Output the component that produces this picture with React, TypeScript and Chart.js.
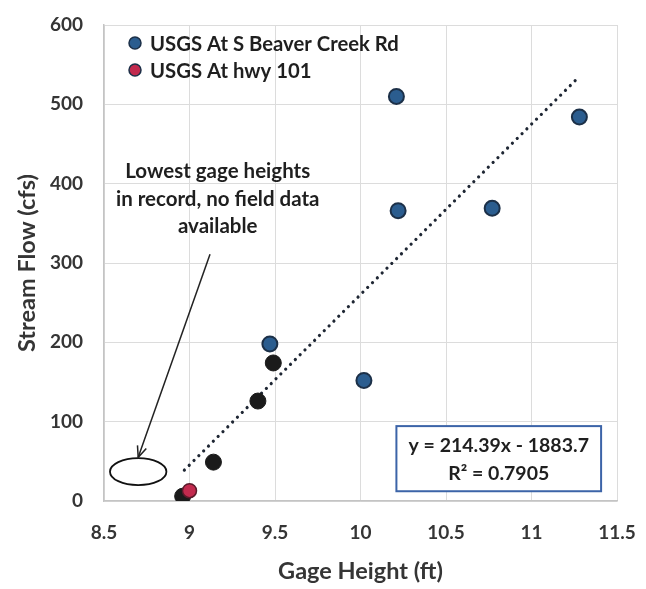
import React, { useEffect, useRef } from "react";
import { Chart, registerables } from "chart.js";

Chart.register(...registerables);

// Data
const beaverX = [9.47, 10.02, 10.21, 10.22, 10.77, 11.28];
const beaverY = [198, 152, 510, 366, 369, 484];
const hwyX = [9.0];
const hwyY = [13];
const otherX = [8.96, 9.14, 9.4, 9.49];
const otherY = [6, 49, 126, 174];
const trendX = [8.97, 11.27];
const trendY = [39, 533];

const xTicks = [8.5, 9, 9.5, 10, 10.5, 11, 11.5];
const yTicks = [0, 100, 200, 300, 400, 500, 600];

const legendLabels = ["USGS At S Beaver Creek Rd", "USGS At hwy 101"];
const noteLines = ["Lowest gage heights", "in record, no field data", "available"];
const equationLines = ["y = 214.39x - 1883.7", "R\u00b2 = 0.7905"];

const FONT = "Lato, 'Open Sans', sans-serif";
const BLUE = "#2b5d8f";
const BLUE_BORDER = "#1c3048";
const RED = "#c22a4e";
const DARK = "#1b1b1b";
const TEXT = "#353535";

const toPts = (xs: number[], ys: number[]) => xs.map((x, i) => ({ x, y: ys[i] }));

const zeroPadding = (s: any) => {
  s.paddingTop = 0;
  s.paddingBottom = 0;
  s.paddingLeft = 0;
  s.paddingRight = 0;
};

const overlayPlugin = {
  id: "overlay",
  afterDatasetsDraw(chart: any) {
    const { ctx, chartArea, scales } = chart;
    const xs = scales.x;
    const ys = scales.y;
    ctx.save();

    // Legend (inside plot)
    const lx = chartArea.left + 31;
    const colors = [BLUE, RED];
    ctx.font = `bold 20.3px ${FONT}`;
    ctx.textBaseline = "middle";
    ctx.textAlign = "left";
    legendLabels.forEach((lab, i) => {
      const ly = chartArea.top + 18 + i * 27;
      ctx.beginPath();
      ctx.arc(lx, ly, 6, 0, Math.PI * 2);
      ctx.fillStyle = colors[i];
      ctx.fill();
      ctx.lineWidth = 1.5;
      ctx.strokeStyle = BLUE_BORDER;
      ctx.stroke();
      ctx.fillStyle = "#1f1f1f";
      ctx.fillText(lab, lx + 15, ly + 1);
    });

    // Note text
    ctx.textAlign = "center";
    ctx.font = `bold 20.5px ${FONT}`;
    ctx.fillStyle = "#1f1f1f";
    const nx = xs.getPixelForValue(9.165);
    const ny = ys.getPixelForValue(415);
    noteLines.forEach((t, i) => {
      ctx.fillText(t, nx, ny + i * 27.5);
    });

    // Ellipse
    const ecx = xs.getPixelForValue(8.7);
    const ecy = ys.getPixelForValue(37);
    const erx = Math.abs(xs.getPixelForValue(8.865) - ecx);
    const ery = Math.abs(ys.getPixelForValue(54) - ecy);
    ctx.beginPath();
    ctx.ellipse(ecx, ecy, erx, ery, 0, 0, Math.PI * 2);
    ctx.fillStyle = "#ffffff";
    ctx.fill();
    ctx.lineWidth = 1.8;
    ctx.strokeStyle = "#111";
    ctx.stroke();

    // Arrow
    const ax0 = xs.getPixelForValue(9.12);
    const ay0 = ys.getPixelForValue(311);
    const ax1 = xs.getPixelForValue(8.7);
    const ay1 = ys.getPixelForValue(55);
    ctx.beginPath();
    ctx.moveTo(ax0, ay0);
    ctx.lineTo(ax1, ay1);
    ctx.lineWidth = 1.5;
    ctx.strokeStyle = "#222";
    ctx.stroke();
    const ang = Math.atan2(ay1 - ay0, ax1 - ax0);
    const hl = 12;
    ctx.beginPath();
    ctx.moveTo(ax1 - hl * Math.cos(ang - 0.4), ay1 - hl * Math.sin(ang - 0.4));
    ctx.lineTo(ax1, ay1);
    ctx.lineTo(ax1 - hl * Math.cos(ang + 0.4), ay1 - hl * Math.sin(ang + 0.4));
    ctx.stroke();

    // Equation box
    const bx0 = xs.getPixelForValue(10.21);
    const bx1 = xs.getPixelForValue(11.407);
    const by0 = ys.getPixelForValue(94.4);
    const by1 = ys.getPixelForValue(12.3);
    ctx.fillStyle = "#ffffff";
    ctx.fillRect(bx0, by0, bx1 - bx0, by1 - by0);
    ctx.lineWidth = 2;
    ctx.strokeStyle = "#3c64a8";
    ctx.strokeRect(bx0, by0, bx1 - bx0, by1 - by0);
    ctx.fillStyle = "#1f1f1f";
    ctx.font = `bold 19.5px ${FONT}`;
    ctx.textAlign = "center";
    const bcx = (bx0 + bx1) / 2;
    ctx.fillText(equationLines[0], bcx, by0 + 20);
    ctx.fillText(equationLines[1], bcx, by0 + 48);

    ctx.restore();
  },
};

export default function App() {
  const ref = useRef<HTMLCanvasElement | null>(null);

  useEffect(() => {
    if (!ref.current) return;
    const chart = new Chart(ref.current, {
      type: "scatter",
      data: {
        datasets: [
          {
            label: "USGS At hwy 101",
            data: toPts(hwyX, hwyY),
            backgroundColor: RED,
            borderColor: "#5a1a2a",
            borderWidth: 1.5,
            pointRadius: 7,
            order: 0,
          },
          {
            label: "USGS At S Beaver Creek Rd",
            data: toPts(beaverX, beaverY),
            backgroundColor: BLUE,
            borderColor: BLUE_BORDER,
            borderWidth: 2,
            pointRadius: 7.5,
            order: 1,
          },
          {
            label: "Other",
            data: toPts(otherX, otherY),
            backgroundColor: DARK,
            borderColor: DARK,
            borderWidth: 1,
            pointRadius: 8,
            order: 2,
          },
          {
            type: "line",
            label: "Trend",
            data: toPts(trendX, trendY),
            borderColor: "#1e2633",
            borderWidth: 3.2,
            borderDash: [0.01, 6.8],
            borderCapStyle: "round",
            pointRadius: 0,
            fill: false,
            order: 3,
          } as any,
        ],
      },
      options: {
        animation: false,
        responsive: false,
        maintainAspectRatio: false,
        layout: { padding: { top: 25, right: 29, left: 0, bottom: 0 } },
        plugins: {
          legend: { display: false },
          tooltip: { enabled: false },
        },
        scales: {
          x: {
            type: "linear",
            min: 8.5,
            max: 11.5,
            afterBuildTicks: (s: any) => {
              s.ticks = xTicks.map((v) => ({ value: v }));
            },
            afterFit: (s: any) => {
              s.height = 88;
              zeroPadding(s);
            },
            ticks: {
              padding: 20,
              color: TEXT,
              font: { family: FONT, size: 19, weight: "bold" },
              callback: (v: any) => String(v),
            },
            grid: { color: "#dcdcdc", drawTicks: false, lineWidth: 1 },
            border: { color: "#c4c4c4", width: 1.5 },
            title: {
              display: true,
              text: "Gage Height (ft)",
              color: TEXT,
              font: { family: FONT, size: 23.5, weight: "bold" },
              padding: { top: 0, bottom: 3 },
            },
          },
          y: {
            type: "linear",
            min: 0,
            max: 600,
            afterBuildTicks: (s: any) => {
              s.ticks = yTicks.map((v) => ({ value: v }));
            },
            afterFit: (s: any) => {
              s.width = 104;
              zeroPadding(s);
            },
            ticks: {
              padding: 21,
              color: TEXT,
              font: { family: FONT, size: 19, weight: "bold" },
              callback: (v: any) => String(v),
            },
            grid: { color: "#dcdcdc", drawTicks: false, lineWidth: 1 },
            border: { color: "#c4c4c4", width: 1.5 },
            title: {
              display: true,
              text: "Stream Flow (cfs)",
              color: TEXT,
              font: { family: FONT, size: 23.5, weight: "bold" },
              padding: { top: 13, bottom: 0 },
            },
          },
        },
      },
      plugins: [overlayPlugin],
    } as any);
    return () => chart.destroy();
  }, []);

  return (
    <div style={{ position: "fixed", left: 0, top: 0, width: 646, height: 589, background: "#fff" }}>
      <canvas ref={ref} width={646} height={589} style={{ width: 646, height: 589, display: "block" }} />
    </div>
  );
}
